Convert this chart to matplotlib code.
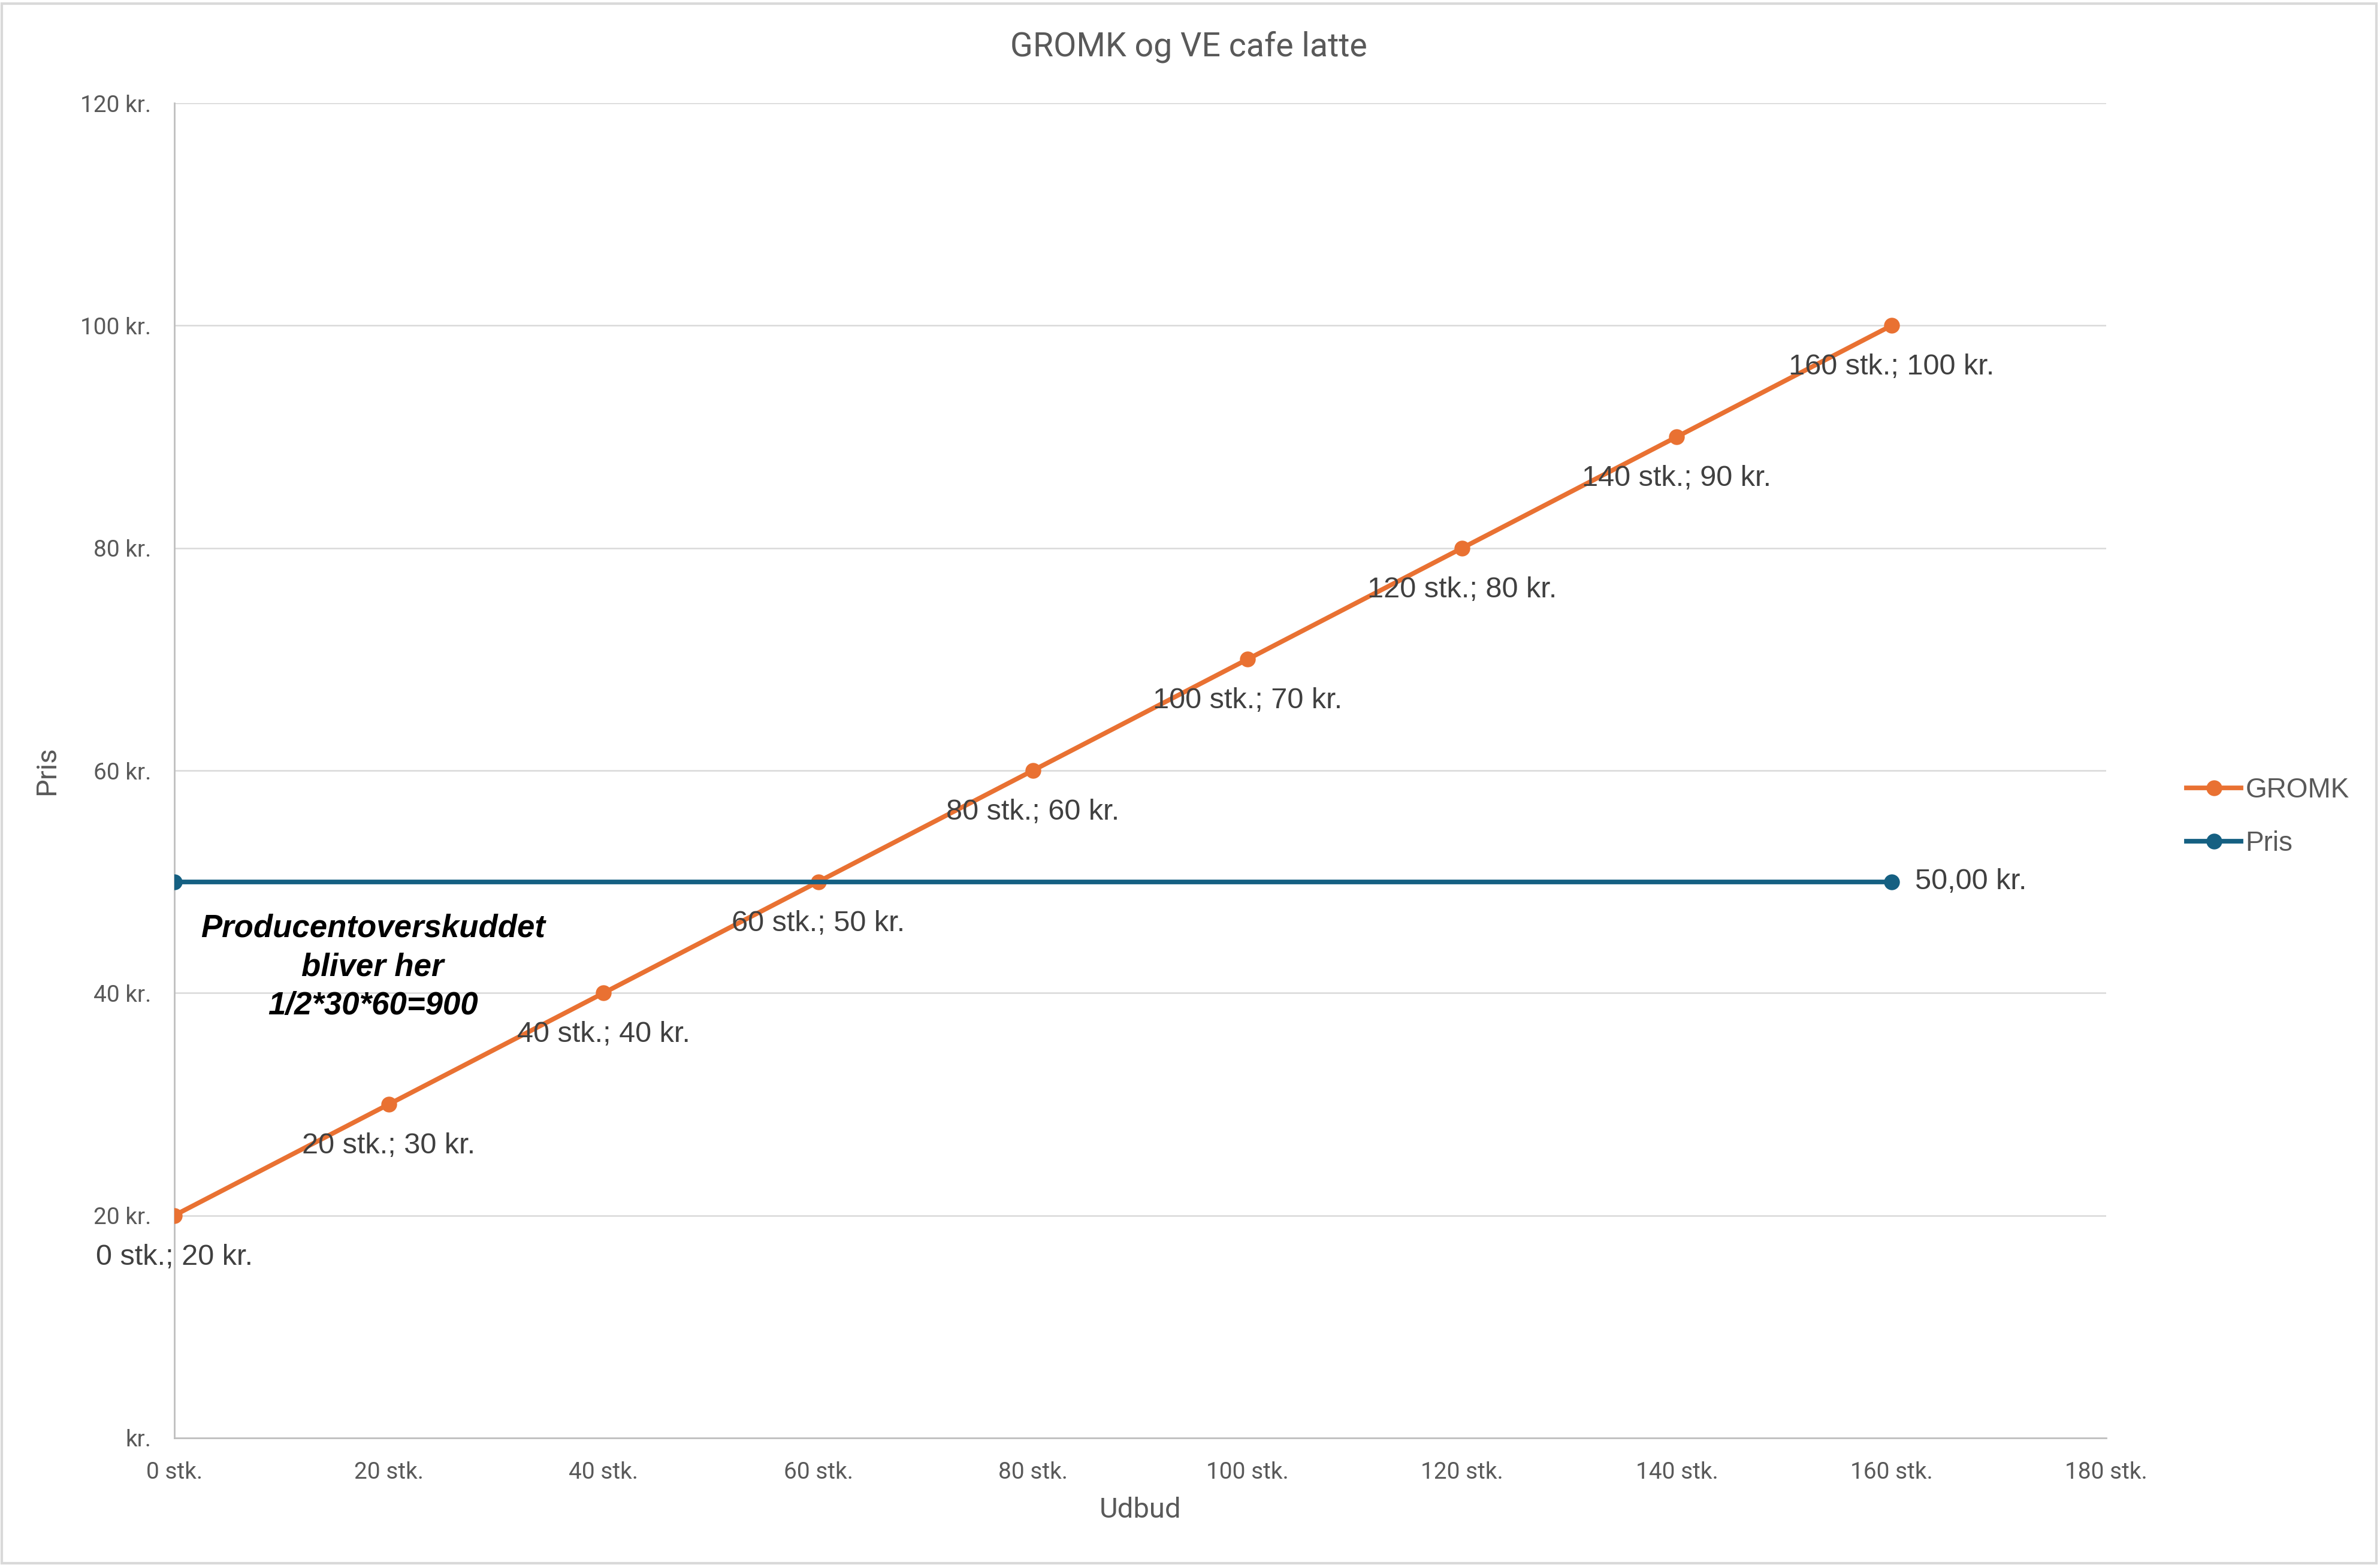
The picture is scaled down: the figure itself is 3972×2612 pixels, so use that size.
import matplotlib
matplotlib.use("Agg")
import matplotlib.pyplot as plt
from matplotlib.patches import Rectangle
from matplotlib.ticker import FuncFormatter, MultipleLocator

# Data
udbud = [0, 20, 40, 60, 80, 100, 120, 140, 160]
gromk = [20, 30, 40, 50, 60, 70, 80, 90, 100]
pris_x = [0, 160]
pris_y = [50, 50]

orange = "#E97132"
blue = "#156082"
grey_txt = "#595959"
narrow = ["Roboto", "DejaVu Sans"]
regular = ["Liberation Sans", "DejaVu Sans"]

fig = plt.figure(figsize=(19.865, 13.06), dpi=200)
ax = fig.add_axes([0.0732, 0.0812, 0.8115, 0.8529])

ax.plot(udbud, gromk, color=orange, lw=2.8, marker="o", ms=8.5, label="GROMK", zorder=3)
ax.plot(pris_x, pris_y, color=blue, lw=2.8, marker="o", ms=8.5, label="Pris", zorder=3)

# data labels
for x, y in zip(udbud, gromk):
    ax.annotate(f"{x} stk.; {y} kr.", (x, y), xytext=(0, -25), textcoords="offset points",
                ha="center", va="center", fontsize=17.5, color="#404040", family=regular)
ax.annotate("50,00 kr.", (pris_x[-1], pris_y[-1]), xytext=(14, 0), textcoords="offset points",
            ha="left", va="center", fontsize=17.5, color="#404040", family=regular)

ax.text(18.5, 42.3, "Producentoverskuddet\nbliver her\n1/2*30*60=900", ha="center", va="center",
        fontsize=19, fontweight="bold", fontstyle="italic", color="black",
        family=regular, linespacing=1.38)

ax.set_xlim(0, 180)
ax.set_ylim(0, 120)
ax.xaxis.set_major_locator(MultipleLocator(20))
ax.yaxis.set_major_locator(MultipleLocator(20))
ax.xaxis.set_major_formatter(FuncFormatter(lambda v, p: f"{int(v)} stk."))
ax.yaxis.set_major_formatter(FuncFormatter(lambda v, p: "kr." if v == 0 else f"{int(v)} kr."))
ax.tick_params(length=0, labelsize=14, labelcolor=grey_txt)
ax.tick_params(axis="y", pad=14)
ax.tick_params(axis="x", pad=14)
for lab in ax.get_xticklabels() + ax.get_yticklabels():
    lab.set_family(narrow)

ax.grid(axis="y", color="#D9D9D9", lw=0.9)
ax.set_axisbelow(True)
for s in ["top", "right"]:
    ax.spines[s].set_visible(False)
for s in ["left", "bottom"]:
    ax.spines[s].set_color("#BFBFBF")
    ax.spines[s].set_linewidth(1.0)

ax.set_xlabel("Udbud", fontsize=17, color=grey_txt, family=narrow, labelpad=8)
ax.set_ylabel("Pris", fontsize=17, color=grey_txt, family=narrow, labelpad=12)

fig.text(0.4994, 0.970, "GROMK og VE cafe latte", ha="center", va="center",
         fontsize=20, color=grey_txt, family=narrow)

leg = fig.legend(loc="center left", bbox_to_anchor=(0.908, 0.478), frameon=False,
                 prop={"family": regular, "size": 16.5}, handlelength=2.0,
                 handletextpad=0.15, labelspacing=1.0)
for t in leg.get_texts():
    t.set_color(grey_txt)

fig.patches.append(Rectangle((0.0008, 0.0012), 0.9975, 0.9965, transform=fig.transFigure,
                             fill=False, edgecolor="#D9D9D9", lw=1.5))

fig.savefig("out.png", dpi=200, facecolor="white")
